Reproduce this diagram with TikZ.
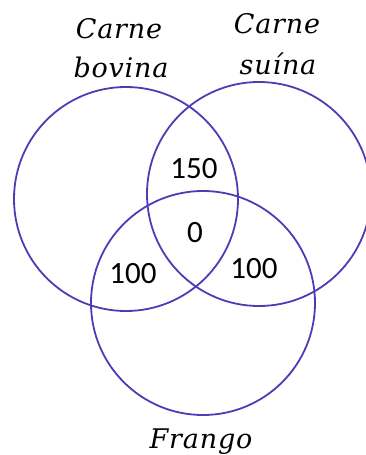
\documentclass[tikz,border=0pt]{standalone}
\usepackage{fontspec}
\newfontfamily\labfont{DejaVu Serif}[LetterSpace=3]
\newfontfamily\numfont{Carlito}
\definecolor{venn}{RGB}{76,60,182}
\tikzset{
  setcircle/.style={draw=venn, line width=1.8pt},
  setname/.style={font=\labfont\itshape\fontsize{27}{30}\selectfont, text=black, anchor=base, inner sep=0pt},
  count/.style={font=\numfont\fontsize{31}{34}\selectfont, text=black, anchor=base, inner sep=0pt}
}
\begin{document}
\begin{tikzpicture}[x=1pt,y=-1pt]
\useasboundingbox (0,0) rectangle (365,455);
\draw[setcircle] (126,199) circle[radius=112pt];
\draw[setcircle] (259,194) circle[radius=112pt];
\draw[setcircle] (203,303) circle[radius=112pt];
\node[setname] (b1) at (119,38) {Carne};
\node[setname] (b2) at (121,77) {bovina};
\node[setname] (s1) at (277,33) {Carne};
\node[setname] (s2) at (278,74) {suína};
\node[setname] (f) at (201,448) {Frango};
\node[count] (n150) at (194,178) {150};
\node[count] (n0) at (195,242) {0};
\node[count] (nl) at (133,283) {100};
\node[count] (nr) at (254,278) {100};
\end{tikzpicture}
\end{document}
